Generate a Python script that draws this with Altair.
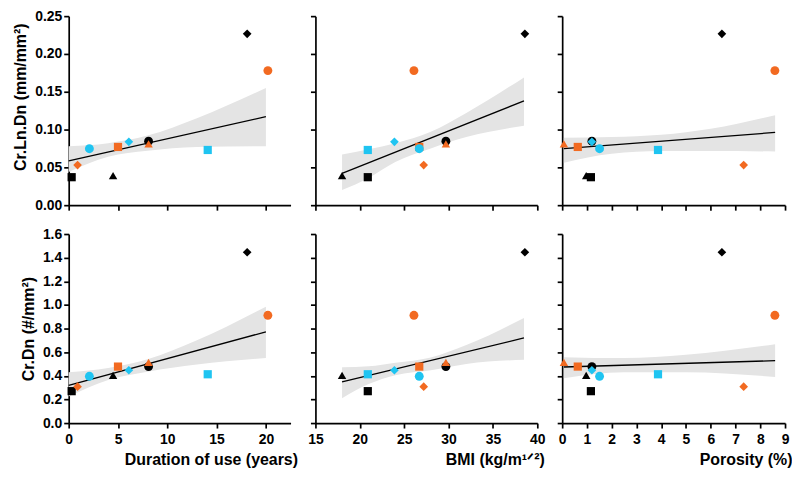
import altair as alt
import pandas as pd

FONT = "Liberation Sans"
ORANGE = "#F26A21"
CYAN = "#1FC4F1"
BAND = "#E4E4E4"

# ---- data ----
group = ["black", "black", "black", "black",
         "orange", "orange", "orange", "orange",
         "cyan", "cyan", "cyan"]
marker = ["square", "triangle-up", "diamond", "circle",
          "square", "triangle-up", "diamond", "circle",
          "square", "diamond", "circle"]
duration = [0.3, 4.5, 18.1, 8.1, 5.0, 8.1, 0.9, 20.2, 14.1, 6.1, 2.1]
bmi = [20.9, 18.0, 38.6, 29.7, 26.7, 29.7, 27.2, 26.1, 20.9, 23.9, 26.7]
porosity = [1.16, 0.97, 6.45, 1.2, 0.63, 0.07, 7.33, 8.59, 3.87, 1.2, 1.51]
cr_ln_dn = [0.037, 0.039, 0.2266, 0.0846, 0.077, 0.081, 0.053, 0.178, 0.073, 0.0838, 0.0747]
cr_dn = [0.270, 0.403, 1.446, 0.478, 0.478, 0.514, 0.308, 0.912, 0.413, 0.447, 0.396]

# regression fits (intercept, slope)
fit_dur_ln = (0.0586, 0.00292)
fit_dur_dn = (0.320, 0.0226)
fit_bmi_ln = (-0.0423, 0.00468)
fit_bmi_dn = (0.0234, 0.0181)
fit_por_ln = (0.0745, 0.00252)
fit_por_dn = (0.474, 0.00628)

# confidence bands
band_dur_x = [0, 4, 8, 13, 20]
band_dur_ln_lo = [0.044, 0.064, 0.072, 0.077, 0.078]
band_dur_ln_hi = [0.078, 0.082, 0.092, 0.115, 0.155]
band_dur_dn_lo = [0.225, 0.365, 0.435, 0.495, 0.550]
band_dur_dn_hi = [0.430, 0.465, 0.540, 0.700, 0.985]

band_bmi_x = [18, 21, 24, 28, 32, 38.5]
band_bmi_ln_lo = [0.020, 0.036, 0.057, 0.075, 0.090, 0.105]
band_bmi_ln_hi = [0.067, 0.074, 0.082, 0.097, 0.122, 0.169]
band_bmi_dn_lo = [0.210, 0.330, 0.405, 0.447, 0.500, 0.536]
band_bmi_dn_hi = [0.472, 0.480, 0.510, 0.555, 0.660, 0.890]

band_por_ln_x = [0.07, 2, 4, 6, 8.6]
band_por_ln_lo = [0.056, 0.068, 0.0715, 0.0715, 0.071]
band_por_ln_hi = [0.089, 0.090, 0.093, 0.101, 0.119]
band_por_dn_x = [0.07, 2.5, 5, 8.6]
band_por_dn_lo = [0.380, 0.430, 0.430, 0.390]
band_por_dn_hi = [0.558, 0.550, 0.578, 0.667]

W = [223, 223, 224]
H = 190

x_specs = [
    dict(vals=duration, domain=[0, 22.5], ticks=[0, 5, 10, 15, 20], title="Duration of use (years)"),
    dict(vals=bmi, domain=[15, 40], ticks=[15, 20, 25, 30, 35, 40], title="BMI (kg/m\u00b9\u141f\u00b2)"),
    dict(vals=porosity, domain=[0, 9], ticks=list(range(10)), title="Porosity (%)"),
]
y_specs = [
    dict(vals=cr_ln_dn, domain=[0, 0.25], ticks=[0, 0.05, 0.10, 0.15, 0.20, 0.25], fmt=".2f",
         title="Cr.Ln.Dn (mm/mm\u00b2)", title_shift=-14),
    dict(vals=cr_dn, domain=[0, 1.6], ticks=[0, 0.2, 0.4, 0.6, 0.8, 1.0, 1.2, 1.4, 1.6], fmt=".1f",
         title="Cr.Dn (#/mm\u00b2)", title_shift=0),
]
fits = [[fit_dur_ln, fit_bmi_ln, fit_por_ln], [fit_dur_dn, fit_bmi_dn, fit_por_dn]]
bands = [
    [(band_dur_x, band_dur_ln_lo, band_dur_ln_hi), (band_bmi_x, band_bmi_ln_lo, band_bmi_ln_hi),
     (band_por_ln_x, band_por_ln_lo, band_por_ln_hi)],
    [(band_dur_x, band_dur_dn_lo, band_dur_dn_hi), (band_bmi_x, band_bmi_dn_lo, band_bmi_dn_hi),
     (band_por_dn_x, band_por_dn_lo, band_por_dn_hi)],
]

shape_dom = ["square", "triangle-up", "diamond", "circle"]
panels = []
for r, ys in enumerate(y_specs):
    for c, xs in enumerate(x_specs):
        bottom = r == 1
        left = c == 0
        xaxis = alt.Axis(values=xs["ticks"], tickCount=len(xs["ticks"]), labels=bottom,
                         title=xs["title"] if bottom else None, labelPadding=5,
                         titleAnchor="end", titleAlign="right", titleX=W[c] + 7, titlePadding=5,
                         labelFlush=False, labelOverlap=False, grid=False)
        yaxis = alt.Axis(values=ys["ticks"], tickCount=len(ys["ticks"]), labels=left, format=ys["fmt"],
                         title=ys["title"] if left else None, titlePadding=6, labelPadding=2,
                         titleY=H / 2 + ys["title_shift"], titleAngle=270, titleAlign="center",
                         titleBaseline="bottom",
                         labelFlush=False, labelOverlap=False, grid=False)
        xsc = alt.Scale(domain=xs["domain"], nice=False, zero=False)
        ysc = alt.Scale(domain=ys["domain"], nice=False, zero=False)

        bx, blo, bhi = bands[r][c]
        band_df = pd.DataFrame({"x": bx, "lo": blo, "hi": bhi})
        a, b = fits[r][c]
        line_df = pd.DataFrame({"x": [bx[0], bx[-1]], "y": [a + b * bx[0], a + b * bx[-1]]})
        pts_df = pd.DataFrame({"x": xs["vals"], "y": ys["vals"], "g": group, "m": marker,
                               "o": list(range(len(group)))})

        band = alt.Chart(band_df).mark_area(color=BAND, interpolate="monotone").encode(
            x=alt.X("x:Q", scale=xsc, axis=xaxis),
            y=alt.Y("lo:Q", scale=ysc, axis=yaxis),
            y2="hi:Q",
        )
        line = alt.Chart(line_df).mark_line(color="black", strokeWidth=1.3).encode(
            x=alt.X("x:Q", scale=xsc, axis=xaxis), y=alt.Y("y:Q", scale=ysc, axis=yaxis)
        )
        pts = alt.Chart(pts_df).mark_point(filled=True, opacity=1, strokeWidth=0).encode(
            x=alt.X("x:Q", scale=xsc, axis=xaxis),
            y=alt.Y("y:Q", scale=ysc, axis=yaxis),
            color=alt.Color("g:N", scale=alt.Scale(domain=["black", "orange", "cyan"],
                                                   range=["#000000", ORANGE, CYAN]), legend=None),
            shape=alt.Shape("m:N", scale=alt.Scale(domain=shape_dom, range=shape_dom), legend=None),
            size=alt.Size("m:N", scale=alt.Scale(domain=shape_dom, range=[68, 80, 70, 90]), legend=None),
            order=alt.Order("o:Q"),
        )
        panels.append(alt.layer(band, line, pts).properties(width=W[c], height=H))

chart = alt.concat(*panels, columns=3, spacing={"row": 29, "column": 25}, bounds="flush").properties(
    padding={"left": 4, "top": 0, "right": 0, "bottom": 0}
).configure_view(stroke=None).configure_axis(
    domainColor="black", domainWidth=1.7, tickColor="black", tickWidth=1.7, tickSize=5,
    labelFont=FONT, labelFontSize=14, labelFontWeight="bold", labelColor="black",
    titleFont=FONT, titleFontSize=16, titleFontWeight="bold", titleColor="black",
)

chart.save("out.html", embed_options={"renderer": "svg", "actions": False})
